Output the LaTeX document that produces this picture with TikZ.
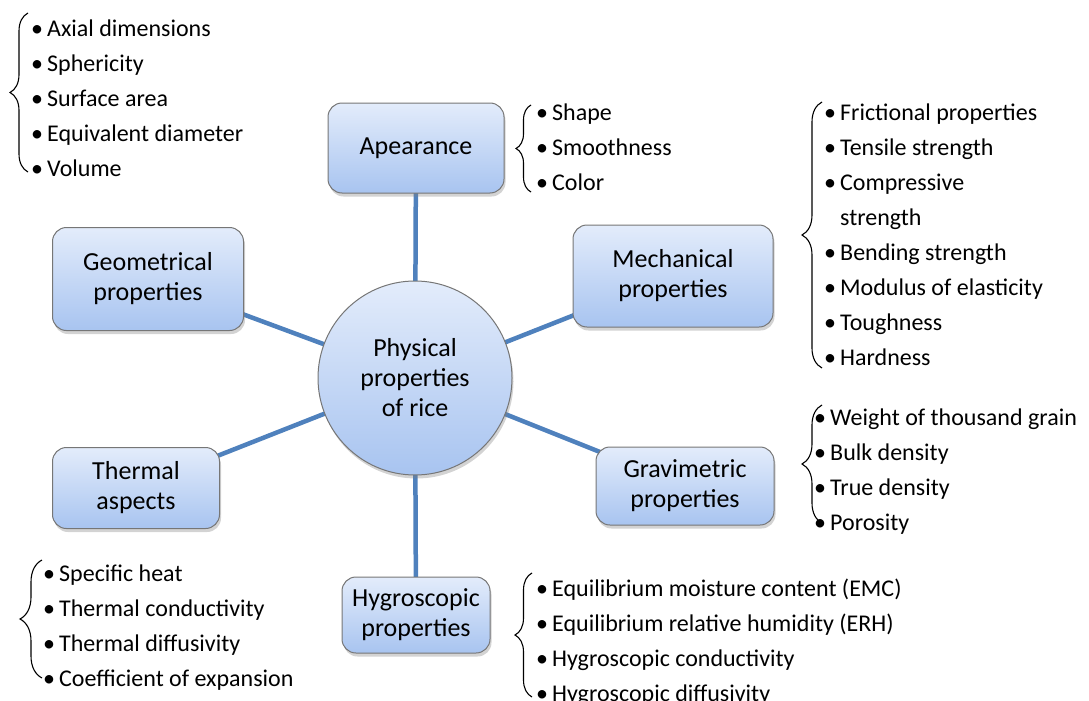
\documentclass[tikz,border=0pt]{standalone}
\usepackage{fontspec}
\setmainfont{Carlito}
\usetikzlibrary{shadows}
\usetikzlibrary{backgrounds}
\usetikzlibrary{decorations.pathreplacing}
\definecolor{lb}{RGB}{79, 129, 189}
\definecolor{bt}{RGB}{227, 236, 251}
\definecolor{bb}{RGB}{168, 196, 240}
\definecolor{gr}{RGB}{118, 118, 118}
\newcommand{\bul}{\makebox[16pt][l]{\textbullet}}

\begin{document}
\begin{tikzpicture}[x=1pt, y=-1pt,
    prop/.style={draw=gr, line width=1pt, rounded corners=14pt, top color=bt, bottom color=bb,
        align=center, inner sep=2pt, font=\fontsize{26}{30}\selectfont,
        drop shadow={shadow xshift=1.5pt, shadow yshift=-3.5pt, opacity=.35}},
    hub/.style={prop, circle, rounded corners=0pt, inner sep=0pt, minimum size=194pt},
    items/.style={anchor=north west, align=left, inner sep=0pt, font=\fontsize{24}{35}\selectfont},
    curly/.style={decorate, decoration={brace, amplitude=#1}, line width=1.1pt},
    curly/.default=18,
    link/.style={lb, line width=4.5pt}]
    \useasboundingbox (0,0) rectangle (1089,701);
        \node[hub] (rice) at (415,378) {Physical\\properties\\of rice};
        \node[prop, minimum width=176pt, minimum height=90pt] (app) at (416,148) {Apearance};
        \node[prop, minimum width=191pt, minimum height=103pt] (geo) at (148,279) {Geometrical\\properties};
        \node[prop, minimum width=200pt, minimum height=102pt] (mech) at (673,276) {Mechanical\\properties};
        \node[prop, minimum width=167pt, minimum height=81pt] (therm) at (136,488) {Thermal\\aspects};
        \node[prop, minimum width=178pt, minimum height=78pt] (grav) at (685,486) {Gravimetric\\properties};
        \node[prop, minimum width=148pt, minimum height=76pt] (hyg) at (416,615) {Hygroscopic\\properties};
        \begin{scope}[on background layer]
            \draw[link] (rice.center) -- (app.center);
            \draw[link] (rice.center) -- (geo.center);
            \draw[link] (rice.center) -- (mech.center);
            \draw[link] (rice.center) -- (therm.center);
            \draw[link] (rice.center) -- (grav.center);
            \draw[link] (rice.center) -- (hyg.center);
        \end{scope}
        % lists of properties
        \node[items] (geolist) at (31,20) {\bul Axial dimensions\\\bul Sphericity\\\bul Surface area\\\bul Equivalent diameter\\\bul Volume};
        \node[items] (applist) at (536,104) {\bul Shape\\\bul Smoothness\\\bul Color};
        \node[items] (mechlist) at (824,104) {\bul Frictional properties\\\bul Tensile strength\\\bul Compressive\\\hspace*{16pt}strength\\\bul Bending strength\\\bul Modulus of elasticity\\\bul Toughness\\\bul Hardness};
        \node[items] (gravlist) at (814,409) {\bul Weight of thousand grain\\\bul Bulk density\\\bul True density\\\bul Porosity};
        \node[items] (thermlist) at (43,565) {\bul Specific heat\\\bul Thermal conductivity\\\bul Thermal diffusivity\\\bul Coefficient of expansion};
        \node[items] (hyglist) at (536,579) {\bul Equilibrium moisture content (EMC)\\\bul Equilibrium relative humidity (ERH)\\\bul Hygroscopic conductivity\\\bul Hygroscopic diffusivity};
        % braces
        \draw[curly=18] (28,172) -- (28,13);
        \draw[curly=15] (531,192) -- (531,105);
        \draw[curly=20] (822,368) -- (822,102);
        \draw[curly=20] (822,523) -- (822,405);
        \draw[curly=22] (42,678) -- (42,560);
        \draw[curly=17] (532,697) -- (532,573);
    \end{tikzpicture}
\end{document}
